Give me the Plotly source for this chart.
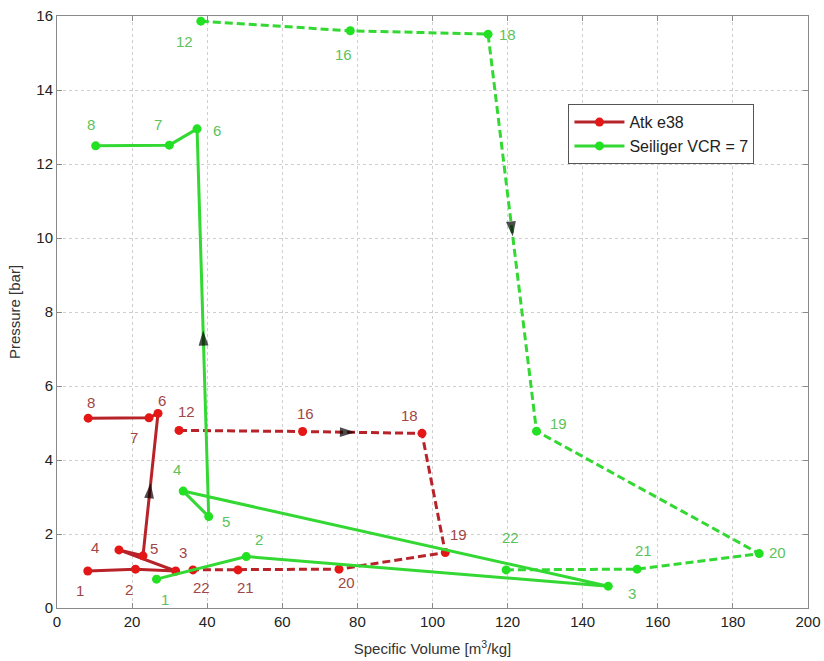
import plotly.graph_objects as go

# Atkinson e38 cycle: state points (specific volume m3/kg, pressure bar)
atk_labels_solid = ["1", "2", "3", "4", "5", "6", "7", "8"]
atk_v_solid = [8.2, 20.9, 31.6, 16.5, 22.9, 26.9, 24.5, 8.3]
atk_p_solid = [1.00, 1.05, 1.00, 1.57, 1.41, 5.26, 5.14, 5.13]

atk_labels_dash = ["12", "16", "18", "19", "20", "21", "22"]
atk_v_dash = [32.5, 65.4, 97.2, 103.4, 75.1, 48.2, 36.2]
atk_p_dash = [4.80, 4.77, 4.72, 1.50, 1.05, 1.03, 1.03]

# Seiliger cycle, VCR = 7
sei_labels_solid = ["1", "2", "3", "4", "5", "6", "7", "8"]
sei_v_solid = [26.5, 50.4, 146.8, 33.6, 40.4, 37.3, 29.9, 10.3]
sei_p_solid = [0.78, 1.39, 0.59, 3.16, 2.47, 12.95, 12.51, 12.49]

sei_labels_dash = ["12", "16", "18", "19", "20", "21", "22"]
sei_v_dash = [38.3, 78.1, 114.8, 127.7, 187.0, 154.5, 119.6]
sei_p_dash = [15.86, 15.60, 15.51, 4.78, 1.47, 1.05, 1.03]

x_ticks = [0, 20, 40, 60, 80, 100, 120, 140, 160, 180, 200]
y_ticks = [0, 2, 4, 6, 8, 10, 12, 14, 16]

RED_LINE = "#b8232a"
RED_MARK = "#e41616"
RED_TEXT = "#a04646"
GREEN_LINE = "#33d833"
GREEN_MARK = "#22e022"
GREEN_TEXT = "#5cc25c"

FONT = "Liberation Sans, Arial"
DASH = "8px,4px"

fig = go.Figure()

def add_path(v, p, line_col, mark_col, dash, name, legend):
    fig.add_trace(go.Scatter(
        x=v, y=p, mode="lines+markers", name=name, showlegend=legend,
        line=dict(color=line_col, width=3, dash=dash),
        marker=dict(color=mark_col, size=9, symbol="circle"),
        hoverinfo="skip",
    ))

add_path(atk_v_solid, atk_p_solid, RED_LINE, RED_MARK, "solid", "Atk e38", True)
add_path(atk_v_dash, atk_p_dash, RED_LINE, RED_MARK, DASH, "Atk e38", False)
add_path(sei_v_solid, sei_p_solid, GREEN_LINE, GREEN_MARK, "solid", "Seiliger VCR = 7", True)
add_path(sei_v_dash, sei_p_dash, GREEN_LINE, GREEN_MARK, DASH, "Seiliger VCR = 7", False)

# Direction arrows placed part-way along a segment of a path
def add_arrow(v, p, i, frac):
    x0, y0 = v[i], p[i]
    x1 = v[i] + frac * (v[i + 1] - v[i])
    y1 = p[i] + frac * (p[i + 1] - p[i])
    fig.add_trace(go.Scatter(
        x=[x0, x1], y=[y0, y1], mode="markers", showlegend=False,
        marker=dict(symbol="arrow", angleref="previous", size=[0, 16],
                    color="black", line=dict(width=0)),
        hoverinfo="skip",
    ))

add_arrow(atk_v_solid, atk_p_solid, 4, 0.51)
add_arrow(atk_v_dash, atk_p_dash, 1, 0.44)
add_arrow(sei_v_solid, sei_p_solid, 4, 0.48)
add_arrow(sei_v_dash, sei_p_dash, 2, 0.51)

# State-point labels with pixel offsets (dx right, dy up)
atk_solid_off = [(-8, -19), (-6, -20), (7, 19), (-24, 2), (11, 7), (4, 13), (-15, -20), (3, 16)]
atk_dash_off = [(7, 19), (3, 18), (-12, 18), (13, 18), (7, -13), (8, -18), (9, -18)]
sei_solid_off = [(8, -20), (13, 17), (24, -7), (-6, 22), (17, -5), (20, -2), (-11, 21), (-5, 21)]
sei_dash_off = [(-16, -20), (-7, -24), (19, 0), (22, 8), (18, 1), (6, 19), (4, 32)]

def add_labels(v, p, labels, offs, col):
    for x, y, t, (dx, dy) in zip(v, p, labels, offs):
        fig.add_annotation(x=x, y=y, text=t, showarrow=False, xshift=dx, yshift=dy,
                           font=dict(family=FONT, size=15, color=col))

add_labels(atk_v_solid, atk_p_solid, atk_labels_solid, atk_solid_off, RED_TEXT)
add_labels(atk_v_dash, atk_p_dash, atk_labels_dash, atk_dash_off, RED_TEXT)
add_labels(sei_v_solid, sei_p_solid, sei_labels_solid, sei_solid_off, GREEN_TEXT)
add_labels(sei_v_dash, sei_p_dash, sei_labels_dash, sei_dash_off, GREEN_TEXT)

axis_common = dict(
    automargin=False,
    showgrid=True, gridcolor="#cfcfcf", griddash="dot", gridwidth=1,
    showline=True, linecolor="#8a8a8a", linewidth=1, mirror="ticks",
    ticks="inside", ticklen=5, tickcolor="#8a8a8a",
    zeroline=False, tickfont=dict(family=FONT, size=15, color="#222"),
)

fig.update_layout(
    width=824, height=661,
    margin=dict(l=57, r=16, t=16, b=53),
    paper_bgcolor="white", plot_bgcolor="white",
    font=dict(family=FONT, color="#222"),
    xaxis=dict(range=[0, 200], tickvals=x_ticks,
               title=dict(text="Specific Volume [m<sup>3</sup>/kg]", standoff=14,
                          font=dict(size=15, color="#333")),
               **axis_common),
    yaxis=dict(range=[0, 16], tickvals=y_ticks,
               title=dict(text="Pressure [bar]", standoff=12,
                          font=dict(size=15, color="#333")),
               **axis_common),
    legend=dict(x=0.681, y=0.851, xanchor="left", yanchor="top",
                bgcolor="white", bordercolor="#555", borderwidth=1,
                font=dict(family=FONT, size=16, color="#222"),
                itemwidth=50, tracegroupgap=0),
)

fig.write_html("out.html")
